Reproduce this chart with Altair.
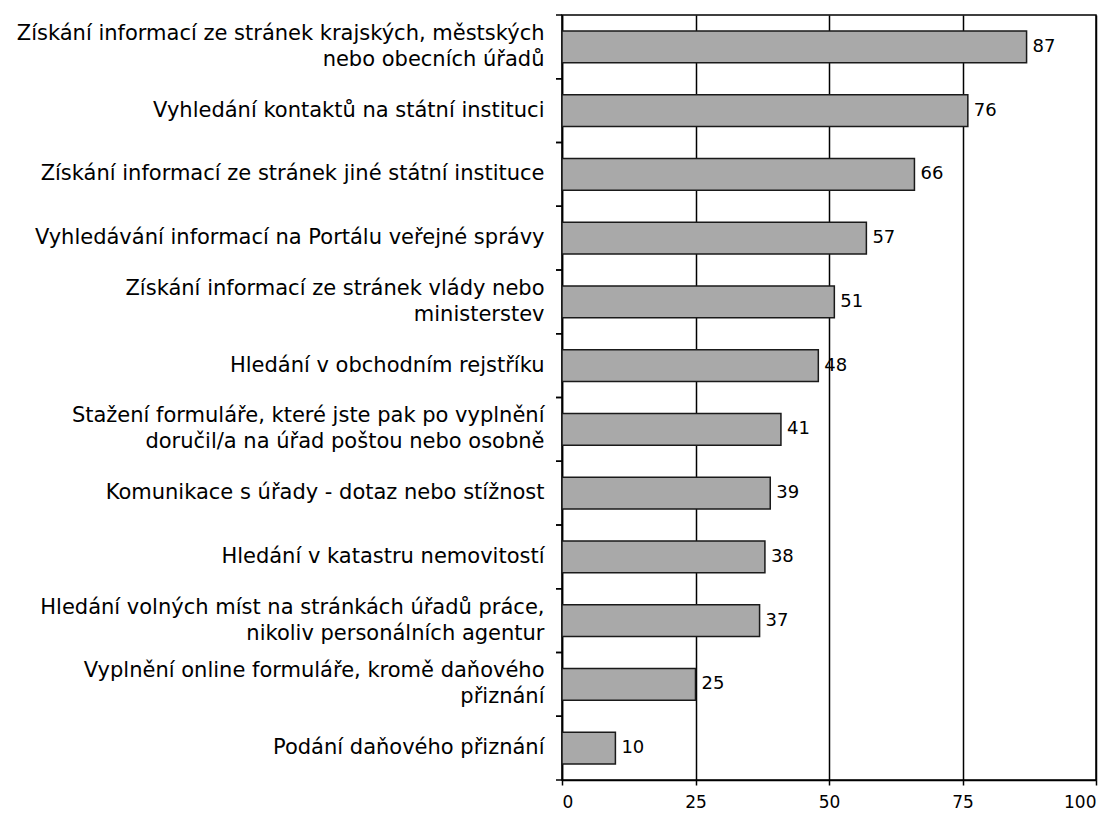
import altair as alt
import pandas as pd

categories = [
    "Získání informací ze stránek krajských, městských\nnebo obecních úřadů",
    "Vyhledání kontaktů na státní instituci",
    "Získání informací ze stránek jiné státní instituce",
    "Vyhledávání informací na Portálu veřejné správy",
    "Získání informací ze stránek vlády nebo\nministerstev",
    "Hledání v obchodním rejstříku",
    "Stažení formuláře, které jste pak po vyplnění\ndoručil/a na úřad poštou nebo osobně",
    "Komunikace s úřady - dotaz nebo stížnost",
    "Hledání v katastru nemovitostí",
    "Hledání volných míst na stránkách úřadů práce,\nnikoliv personálních agentur",
    "Vyplnění online formuláře, kromě daňového\npřiznání",
    "Podání daňového přiznání",
]
values = [87, 76, 66, 57, 51, 48, 41, 39, 38, 37, 25, 10]
x_ticks = [0, 25, 50, 75, 100]

df = pd.DataFrame({"cat": categories, "val": values})

FONT = "DejaVu Sans"

y_scale = alt.Scale(domain=categories, paddingInner=0, paddingOuter=0)

base = alt.Chart(df)

bars = base.mark_bar(
    color="#a9a9a9", stroke="#1a1a1a", strokeWidth=1.5,
    height=alt.RelativeBandSize(0.5),
).encode(
    x=alt.X("val:Q", scale=alt.Scale(domain=[0, 100]),
            axis=alt.Axis(values=x_ticks, title=None, grid=True, gridColor="black",
                          gridOpacity=1, gridWidth=1.5, domainColor="black",
                          domainWidth=1.5, tickColor="black", tickSize=5,
                          tickWidth=1.5, labelFont=FONT, labelFontSize=17,
                          labelColor="black", labelPadding=9)),
    y=alt.Y("cat:N", sort=None, scale=y_scale,
            axis=alt.Axis(title=None, ticks=False, domainColor="black",
                          domainWidth=1.5, labelFont=FONT, labelFontSize=21,
                          labelColor="black", labelLimit=800, labelPadding=18,
                          labelLineHeight=26,
                          labelOffset={"condition": {"test": "indexof(datum.label, '\\n') >= 0",
                                                     "value": -13},
                                       "value": 0},
                          labelExpr="split(datum.label, '\\n')")),
)

labels = base.mark_text(align="left", baseline="middle", dx=6, font=FONT,
                        fontSize=18, color="black").encode(
    x="val:Q",
    y=alt.Y("cat:N", sort=None, scale=y_scale),
    text="val:Q",
)

ticks_top = base.mark_rule(color="black", strokeWidth=1.5).encode(
    y=alt.Y("cat:N", sort=None, scale=y_scale, bandPosition=0),
    x=alt.value(-6), x2=alt.value(0),
)
ticks_bot = base.mark_rule(color="black", strokeWidth=1.5).encode(
    y=alt.Y("cat:N", sort=None, scale=y_scale, bandPosition=1),
    x=alt.value(-6), x2=alt.value(0),
)

chart = alt.layer(bars, labels, ticks_top, ticks_bot).properties(
    width=534, height=765,
    padding={"left": 8, "top": 6, "right": 5, "bottom": 5},
).configure(background="white").configure_view(stroke="black", strokeWidth=1.5)

chart.save("out.html", embed_options={"renderer": "svg", "actions": False})
